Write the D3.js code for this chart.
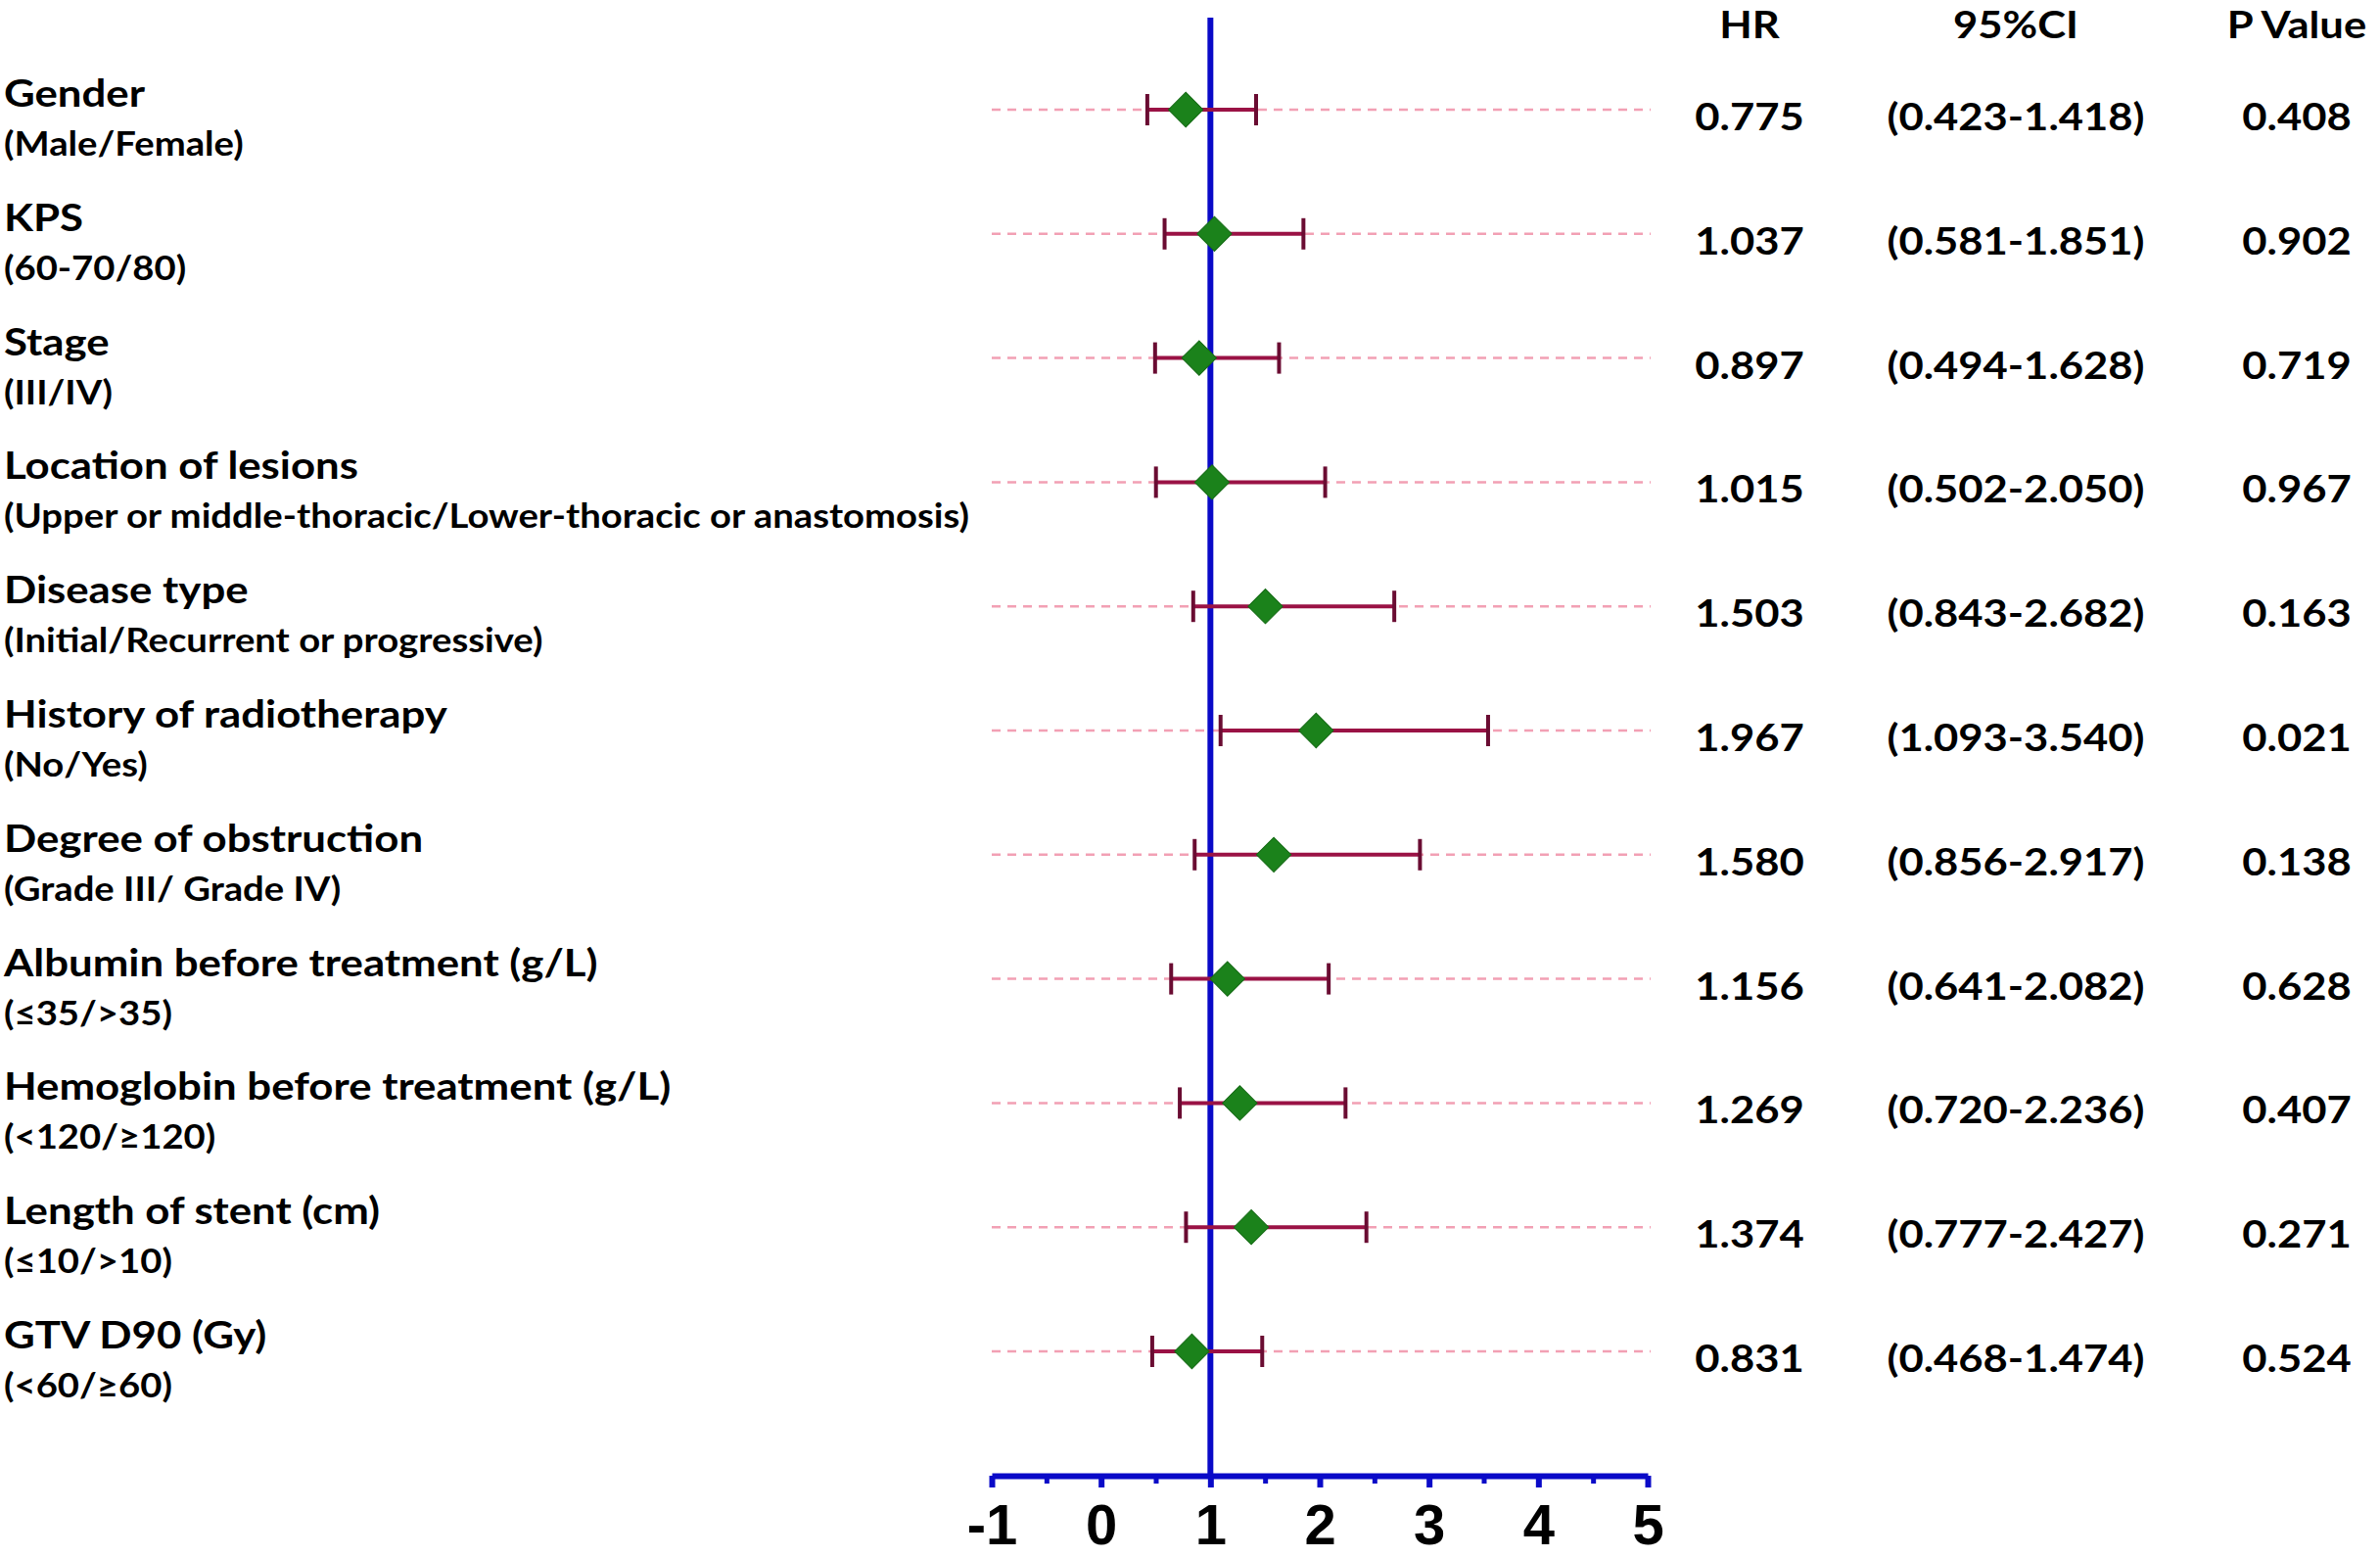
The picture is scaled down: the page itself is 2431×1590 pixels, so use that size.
<!DOCTYPE html>
<html>
<head>
<meta charset="utf-8">
<script src="https://cdn.jsdelivr.net/npm/d3@7/dist/d3.min.js"></script>
<style>
  html, body { margin: 0; padding: 0; background: #ffffff; }
  svg { display: block; }
</style>
</head>
<body>
<svg id="chart" width="2431" height="1590"></svg>
<script>
// ---------------- data ----------------
const categories = [
  "Gender", "KPS", "Stage", "Location of lesions", "Disease type",
  "History of radiotherapy", "Degree of obstruction",
  "Albumin before treatment (g/L)", "Hemoglobin before treatment (g/L)",
  "Length of stent (cm)", "GTV D90 (Gy)"
];
const subtitles = [
  "(Male/Female)", "(60-70/80)", "(III/IV)",
  "(Upper or middle-thoracic/Lower-thoracic or anastomosis)",
  "(Initial/Recurrent or progressive)", "(No/Yes)", "(Grade III/ Grade IV)",
  "(\u226435/>35)", "(<120/\u2265120)", "(\u226410/>10)", "(<60/\u226560)"
];
const hrValues = [0.775, 1.037, 0.897, 1.015, 1.503, 1.967, 1.580, 1.156, 1.269, 1.374, 0.831];
const ciLow    = [0.423, 0.581, 0.494, 0.502, 0.843, 1.093, 0.856, 0.641, 0.720, 0.777, 0.468];
const ciHigh   = [1.418, 1.851, 1.628, 2.050, 2.682, 3.540, 2.917, 2.082, 2.236, 2.427, 1.474];
const pValues  = ["0.408", "0.902", "0.719", "0.967", "0.163", "0.021", "0.138", "0.628", "0.407", "0.271", "0.524"];
const columnHeaders = ["HR", "95%CI", "P Value"];
const xTicks = [-1, 0, 1, 2, 3, 4, 5];
const xMinorTicks = [-0.5, 0.5, 1.5, 2.5, 3.5, 4.5];
const referenceValue = 1;

// ---------------- layout ----------------
const svg = d3.select("#chart");
const FONT = "Lato, 'Open Sans', 'Noto Sans', sans-serif";
const AXIS_FONT = "'Liberation Sans', Arial, sans-serif";
const BLUE = "#0a0ac8";
const WHISKER = "#9a1245";
const CAP = "#6a0c32";
const GREEN = "#1b821b";
const PINK = "#f2a0b4";

const x = d3.scaleLinear().domain([-1, 5]).range([1013, 1683]);
const y = d3.scalePoint().domain(categories).range([112, 1380]);
const axisY = 1507;
const fmt = d3.format(".3f");

const rows = categories.map((c, i) => ({
  cat: c, sub: subtitles[i], hr: hrValues[i], lo: ciLow[i], hi: ciHigh[i], p: pValues[i]
}));

// dashed guide lines
svg.append("g").selectAll("line").data(rows).join("line")
  .attr("x1", x(-1)).attr("x2", x(5) + 3)
  .attr("y1", d => y(d.cat)).attr("y2", d => y(d.cat))
  .attr("stroke", PINK).attr("stroke-width", 2.5)
  .attr("stroke-dasharray", "9,7");

// reference line at HR = 1
svg.append("line")
  .attr("x1", x(referenceValue)).attr("x2", x(referenceValue))
  .attr("y1", 18).attr("y2", axisY)
  .attr("stroke", BLUE).attr("stroke-width", 6);

// whiskers
const wg = svg.append("g");
wg.selectAll("line.ci").data(rows).join("line").attr("class", "ci")
  .attr("x1", d => x(d.lo)).attr("x2", d => x(d.hi))
  .attr("y1", d => y(d.cat)).attr("y2", d => y(d.cat))
  .attr("stroke", WHISKER).attr("stroke-width", 4);
wg.selectAll("line.capL").data(rows).join("line").attr("class", "capL")
  .attr("x1", d => x(d.lo)).attr("x2", d => x(d.lo))
  .attr("y1", d => y(d.cat) - 16).attr("y2", d => y(d.cat) + 16)
  .attr("stroke", CAP).attr("stroke-width", 4);
wg.selectAll("line.capR").data(rows).join("line").attr("class", "capR")
  .attr("x1", d => x(d.hi)).attr("x2", d => x(d.hi))
  .attr("y1", d => y(d.cat) - 16).attr("y2", d => y(d.cat) + 16)
  .attr("stroke", CAP).attr("stroke-width", 4);

// diamonds
const sq = d3.symbol().type(d3.symbolSquare).size(25 * 25);
svg.append("g").selectAll("path").data(rows).join("path")
  .attr("d", sq)
  .attr("transform", d => `translate(${x(d.hr)},${y(d.cat)}) rotate(45)`)
  .attr("fill", GREEN).attr("stroke", "#156a15").attr("stroke-width", 1);

// x axis
const axisG = svg.append("g").attr("transform", `translate(0,${axisY})`);
axisG.call(d3.axisBottom(x).tickValues(xTicks).tickFormat(d => String(d))
  .tickSize(12).tickSizeOuter(0).tickPadding(17));
axisG.select(".domain").attr("stroke", BLUE).attr("stroke-width", 6);
axisG.selectAll(".tick line").attr("stroke", BLUE).attr("stroke-width", 6);
axisG.selectAll(".tick text")
  .attr("fill", "#000").style("font-family", AXIS_FONT)
  .style("font-size", "58px").style("font-weight", "700");
const minorG = svg.append("g").attr("transform", `translate(0,${axisY})`);
minorG.call(d3.axisBottom(x).tickValues(xMinorTicks).tickFormat("").tickSize(8).tickSizeOuter(0));
minorG.select(".domain").remove();
minorG.selectAll(".tick line").attr("stroke", BLUE).attr("stroke-width", 5);

// ---------------- text ----------------
function addText(g, str, xPos, yPos, size, anchor) {
  return g.append("text").text(str)
    .attr("x", xPos).attr("y", yPos)
    .attr("text-anchor", anchor)
    .style("font-family", FONT).style("font-size", size + "px")
    .style("font-weight", "700").attr("fill", "#000");
}
// compress horizontally so a reference string hits a target width
function fitClass(sel, refNode, target) {
  const f = target / refNode.getComputedTextLength();
  sel.each(function () {
    const w = this.getComputedTextLength();
    d3.select(this).attr("textLength", w * f).attr("lengthAdjust", "spacingAndGlyphs");
  });
}

const labelG = svg.append("g");
const titles = [], subs = [];
rows.forEach(d => {
  titles.push(addText(labelG, d.cat, 4, y(d.cat) - 3, 39, "start").attr("class", "ttl").node());
  subs.push(addText(labelG, d.sub, 4, y(d.cat) + 47, 34.5, "start").attr("class", "sub").node());
});
fitClass(labelG.selectAll("text.ttl"), titles[3], 362);
fitClass(labelG.selectAll("text.sub"), subs[3], 986);

const colX = [1787, 2059, 2346];
const valG = svg.append("g");
columnHeaders.forEach((h, j) => addText(valG, h, colX[j], 39, 38.5, "middle").attr("class", "val"));
const ciNodes = [];
rows.forEach(d => {
  const yy = y(d.cat) + 21;
  addText(valG, fmt(d.hr), colX[0], yy, 38.5, "middle").attr("class", "val");
  ciNodes.push(addText(valG, `(${fmt(d.lo)}-${fmt(d.hi)})`, colX[1], yy, 38.5, "middle").attr("class", "val").node());
  addText(valG, d.p, colX[2], yy, 38.5, "middle").attr("class", "val");
});
fitClass(valG.selectAll("text.val"), ciNodes[0], 263);
</script>
</body>
</html>
